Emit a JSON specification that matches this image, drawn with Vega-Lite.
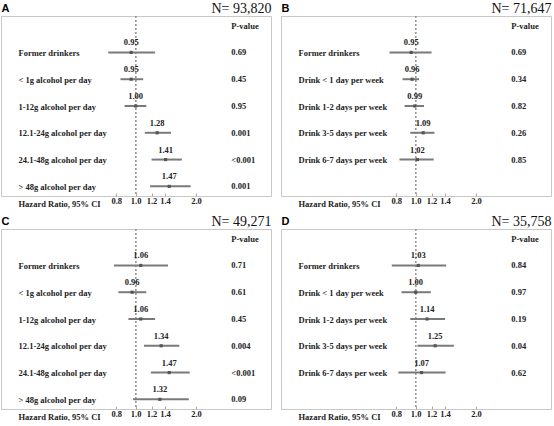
{
  "$schema": "https://vega.github.io/schema/vega-lite/v6.json",
  "description": "Forest plots of hazard ratios by alcohol intake, four panels",
  "padding": {"left": 0, "top": 0, "right": 0, "bottom": 0},
  "columns": 2,
  "spacing": {"row": 33, "column": 10},
  "bounds": "flush",
  "config": {
    "view": {"stroke": "#c8c8c8", "strokeWidth": 1},
    "font": "Liberation Serif",
    "text": {"font": "Liberation Serif", "fontWeight": "bold", "fontSize": 8.5, "color": "#222"},
    "axisBottom": {
      "grid": false,
      "domain": false,
      "ticks": true,
      "tickSize": -3,
      "tickColor": "#aaa",
      "labelPadding": 3,
      "labelFont": "Liberation Serif",
      "labelFontWeight": "bold",
      "labelFontSize": 8.5,
      "labelColor": "#222",
      "labelFlush": false,
      "titleFont": "Liberation Serif",
      "titleFontWeight": "bold",
      "titleFontSize": 8.5,
      "titleColor": "#222",
      "titleAlign": "left",
      "titleBaseline": "top",
      "titleAnchor": "start",
      "titleX": 17,
      "titleY": 3
    },
    "axisTop": {
      "grid": false,
      "domain": false,
      "ticks": false,
      "labels": false,
      "titleFont": "Liberation Serif",
      "titleFontWeight": "normal",
      "titleFontSize": 14,
      "titleColor": "#111",
      "titleAnchor": "end",
      "titleAlign": "right",
      "titleBaseline": "alphabetic",
      "titlePadding": 4
    },
    "axisY": {
      "grid": false,
      "domain": false,
      "ticks": false,
      "labelAlign": "left",
      "labelPadding": -17,
      "labelFont": "Liberation Serif",
      "labelFontWeight": "bold",
      "labelFontSize": 8.5,
      "labelColor": "#222",
      "labelLimit": 200,
      "labelExpr": "datum.value == 'P-value' || datum.value == ' ' ? '' : datum.value",
      "titleAngle": 0,
      "titleFont": "Liberation Sans",
      "titleFontWeight": "bold",
      "titleFontSize": 11,
      "titleColor": "#000",
      "titleAlign": "left",
      "titleBaseline": "alphabetic",
      "titleX": 0,
      "titleY": -5
    }
  },
  "datasets": {
    "a": [
      {"cat": "Former drinkers", "hr": 0.95, "lo": 0.73, "hi": 1.25, "p": "0.69"},
      {"cat": "< 1g alcohol per day", "hr": 0.95, "lo": 0.84, "hi": 1.09, "p": "0.45"},
      {"cat": "1-12g alcohol per day", "hr": 1.00, "lo": 0.88, "hi": 1.13, "p": "0.95"},
      {"cat": "12.1-24g alcohol per day", "hr": 1.28, "lo": 1.11, "hi": 1.50, "p": "0.001"},
      {"cat": "24.1-48g alcohol per day", "hr": 1.41, "lo": 1.20, "hi": 1.70, "p": "<0.001"},
      {"cat": "> 48g alcohol per day", "hr": 1.47, "lo": 1.18, "hi": 1.88, "p": "0.001"}
    ],
    "b": [
      {"cat": "Former drinkers", "hr": 0.95, "lo": 0.74, "hi": 1.20, "p": "0.69"},
      {"cat": "Drink < 1 day per week", "hr": 0.96, "lo": 0.86, "hi": 1.04, "p": "0.34"},
      {"cat": "Drink 1-2 days per week", "hr": 0.99, "lo": 0.88, "hi": 1.10, "p": "0.82"},
      {"cat": "Drink 3-5 days per week", "hr": 1.09, "lo": 0.94, "hi": 1.24, "p": "0.26"},
      {"cat": "Drink 6-7 days per week", "hr": 1.02, "lo": 0.83, "hi": 1.23, "p": "0.85"}
    ],
    "c": [
      {"cat": "Former drinkers", "hr": 1.06, "lo": 0.78, "hi": 1.45, "p": "0.71"},
      {"cat": "< 1g alcohol per day", "hr": 0.96, "lo": 0.82, "hi": 1.13, "p": "0.61"},
      {"cat": "1-12g alcohol per day", "hr": 1.06, "lo": 0.92, "hi": 1.25, "p": "0.45"},
      {"cat": "12.1-24g alcohol per day", "hr": 1.34, "lo": 1.10, "hi": 1.65, "p": "0.004"},
      {"cat": "24.1-48g alcohol per day", "hr": 1.47, "lo": 1.19, "hi": 1.86, "p": "<0.001"},
      {"cat": "> 48g alcohol per day", "hr": 1.32, "lo": 0.97, "hi": 1.84, "p": "0.09"}
    ],
    "d": [
      {"cat": "Former drinkers", "hr": 1.03, "lo": 0.76, "hi": 1.42, "p": "0.84"},
      {"cat": "Drink < 1 day per week", "hr": 1.00, "lo": 0.85, "hi": 1.19, "p": "0.97"},
      {"cat": "Drink 1-2 days per week", "hr": 1.14, "lo": 0.94, "hi": 1.40, "p": "0.19"},
      {"cat": "Drink 3-5 days per week", "hr": 1.25, "lo": 1.02, "hi": 1.55, "p": "0.04"},
      {"cat": "Drink 6-7 days per week", "hr": 1.07, "lo": 0.82, "hi": 1.41, "p": "0.62"}
    ]
  },
  "concat": [
    {
      "width": 270,
      "height": 180,
      "data": {"name": "a"},
      "resolve": {"axis": {"x": "independent"}},
      "layer": [
        {
          "mark": {"type": "rule", "strokeDash": [2, 2], "color": "#999", "strokeWidth": 1},
          "encoding": {"x": {"datum": 1, "type": "quantitative", "scale": {"type": "log", "domain": [0.213, 4.73], "nice": false, "zero": false}, "axis": {"orient": "top", "title": "N= 93,820"}}}
        },
        {
          "mark": {"type": "rule", "color": "#7a7a7a", "strokeWidth": 2},
          "encoding": {
            "y": {"field": "cat", "type": "nominal", "title": "A", "scale": {"type": "point", "padding": 0.36, "domain": ["P-value", "Former drinkers", "< 1g alcohol per day", "1-12g alcohol per day", "12.1-24g alcohol per day", "24.1-48g alcohol per day", "> 48g alcohol per day"]}},
            "x": {"field": "lo", "type": "quantitative", "axis": {"orient": "bottom", "values": [0.8, 1, 1.2, 1.4, 2], "format": ".1f", "title": "Hazard Ratio, 95% CI"}},
            "x2": {"field": "hi"}
          }
        },
        {"mark": {"type": "square", "size": 10, "color": "#555", "opacity": 1}, "encoding": {"y": {"field": "cat", "type": "nominal"}, "x": {"field": "hr", "type": "quantitative", "axis": null}}},
        {"mark": {"type": "text", "dy": -10}, "encoding": {"y": {"field": "cat", "type": "nominal"}, "x": {"field": "hr", "type": "quantitative", "axis": null}, "text": {"field": "hr", "format": ".2f"}}},
        {"mark": {"type": "text", "align": "left"}, "encoding": {"y": {"field": "cat", "type": "nominal"}, "x": {"datum": 3.0, "type": "quantitative", "axis": null}, "text": {"field": "p"}}},
        {"data": {"values": [{"h": "P-value"}]}, "mark": {"type": "text", "align": "left"}, "encoding": {"y": {"datum": "P-value", "type": "nominal"}, "x": {"datum": 3.0, "type": "quantitative", "axis": null}, "text": {"field": "h"}}}
      ]
    },
    {
      "width": 270,
      "height": 180,
      "data": {"name": "b"},
      "resolve": {"axis": {"x": "independent"}},
      "layer": [
        {
          "mark": {"type": "rule", "strokeDash": [2, 2], "color": "#999", "strokeWidth": 1},
          "encoding": {"x": {"datum": 1, "type": "quantitative", "scale": {"type": "log", "domain": [0.213, 4.73], "nice": false, "zero": false}, "axis": {"orient": "top", "title": "N= 71,647"}}}
        },
        {
          "mark": {"type": "rule", "color": "#7a7a7a", "strokeWidth": 2},
          "encoding": {
            "y": {"field": "cat", "type": "nominal", "title": "B", "scale": {"type": "point", "padding": 0.36, "domain": ["P-value", "Former drinkers", "Drink < 1 day per week", "Drink 1-2 days per week", "Drink 3-5 days per week", "Drink 6-7 days per week", " "]}},
            "x": {"field": "lo", "type": "quantitative", "axis": {"orient": "bottom", "values": [0.8, 1, 1.2, 1.4, 2], "format": ".1f", "title": "Hazard Ratio, 95% CI"}},
            "x2": {"field": "hi"}
          }
        },
        {"mark": {"type": "square", "size": 10, "color": "#555", "opacity": 1}, "encoding": {"y": {"field": "cat", "type": "nominal"}, "x": {"field": "hr", "type": "quantitative", "axis": null}}},
        {"mark": {"type": "text", "dy": -10}, "encoding": {"y": {"field": "cat", "type": "nominal"}, "x": {"field": "hr", "type": "quantitative", "axis": null}, "text": {"field": "hr", "format": ".2f"}}},
        {"mark": {"type": "text", "align": "left"}, "encoding": {"y": {"field": "cat", "type": "nominal"}, "x": {"datum": 3.0, "type": "quantitative", "axis": null}, "text": {"field": "p"}}},
        {"data": {"values": [{"h": "P-value"}]}, "mark": {"type": "text", "align": "left"}, "encoding": {"y": {"datum": "P-value", "type": "nominal"}, "x": {"datum": 3.0, "type": "quantitative", "axis": null}, "text": {"field": "h"}}}
      ]
    },
    {
      "width": 270,
      "height": 180,
      "data": {"name": "c"},
      "resolve": {"axis": {"x": "independent"}},
      "layer": [
        {
          "mark": {"type": "rule", "strokeDash": [2, 2], "color": "#999", "strokeWidth": 1},
          "encoding": {"x": {"datum": 1, "type": "quantitative", "scale": {"type": "log", "domain": [0.213, 4.73], "nice": false, "zero": false}, "axis": {"orient": "top", "title": "N= 49,271"}}}
        },
        {
          "mark": {"type": "rule", "color": "#7a7a7a", "strokeWidth": 2},
          "encoding": {
            "y": {"field": "cat", "type": "nominal", "title": "C", "scale": {"type": "point", "padding": 0.36, "domain": ["P-value", "Former drinkers", "< 1g alcohol per day", "1-12g alcohol per day", "12.1-24g alcohol per day", "24.1-48g alcohol per day", "> 48g alcohol per day"]}},
            "x": {"field": "lo", "type": "quantitative", "axis": {"orient": "bottom", "values": [0.8, 1, 1.2, 1.4, 2], "format": ".1f", "title": "Hazard Ratio, 95% CI"}},
            "x2": {"field": "hi"}
          }
        },
        {"mark": {"type": "square", "size": 10, "color": "#555", "opacity": 1}, "encoding": {"y": {"field": "cat", "type": "nominal"}, "x": {"field": "hr", "type": "quantitative", "axis": null}}},
        {"mark": {"type": "text", "dy": -10}, "encoding": {"y": {"field": "cat", "type": "nominal"}, "x": {"field": "hr", "type": "quantitative", "axis": null}, "text": {"field": "hr", "format": ".2f"}}},
        {"mark": {"type": "text", "align": "left"}, "encoding": {"y": {"field": "cat", "type": "nominal"}, "x": {"datum": 3.0, "type": "quantitative", "axis": null}, "text": {"field": "p"}}},
        {"data": {"values": [{"h": "P-value"}]}, "mark": {"type": "text", "align": "left"}, "encoding": {"y": {"datum": "P-value", "type": "nominal"}, "x": {"datum": 3.0, "type": "quantitative", "axis": null}, "text": {"field": "h"}}}
      ]
    },
    {
      "width": 270,
      "height": 180,
      "data": {"name": "d"},
      "resolve": {"axis": {"x": "independent"}},
      "layer": [
        {
          "mark": {"type": "rule", "strokeDash": [2, 2], "color": "#999", "strokeWidth": 1},
          "encoding": {"x": {"datum": 1, "type": "quantitative", "scale": {"type": "log", "domain": [0.213, 4.73], "nice": false, "zero": false}, "axis": {"orient": "top", "title": "N= 35,758"}}}
        },
        {
          "mark": {"type": "rule", "color": "#7a7a7a", "strokeWidth": 2},
          "encoding": {
            "y": {"field": "cat", "type": "nominal", "title": "D", "scale": {"type": "point", "padding": 0.36, "domain": ["P-value", "Former drinkers", "Drink < 1 day per week", "Drink 1-2 days per week", "Drink 3-5 days per week", "Drink 6-7 days per week", " "]}},
            "x": {"field": "lo", "type": "quantitative", "axis": {"orient": "bottom", "values": [0.8, 1, 1.2, 1.4, 2], "format": ".1f", "title": "Hazard Ratio, 95% CI"}},
            "x2": {"field": "hi"}
          }
        },
        {"mark": {"type": "square", "size": 10, "color": "#555", "opacity": 1}, "encoding": {"y": {"field": "cat", "type": "nominal"}, "x": {"field": "hr", "type": "quantitative", "axis": null}}},
        {"mark": {"type": "text", "dy": -10}, "encoding": {"y": {"field": "cat", "type": "nominal"}, "x": {"field": "hr", "type": "quantitative", "axis": null}, "text": {"field": "hr", "format": ".2f"}}},
        {"mark": {"type": "text", "align": "left"}, "encoding": {"y": {"field": "cat", "type": "nominal"}, "x": {"datum": 3.0, "type": "quantitative", "axis": null}, "text": {"field": "p"}}},
        {"data": {"values": [{"h": "P-value"}]}, "mark": {"type": "text", "align": "left"}, "encoding": {"y": {"datum": "P-value", "type": "nominal"}, "x": {"datum": 3.0, "type": "quantitative", "axis": null}, "text": {"field": "h"}}}
      ]
    }
  ]
}
